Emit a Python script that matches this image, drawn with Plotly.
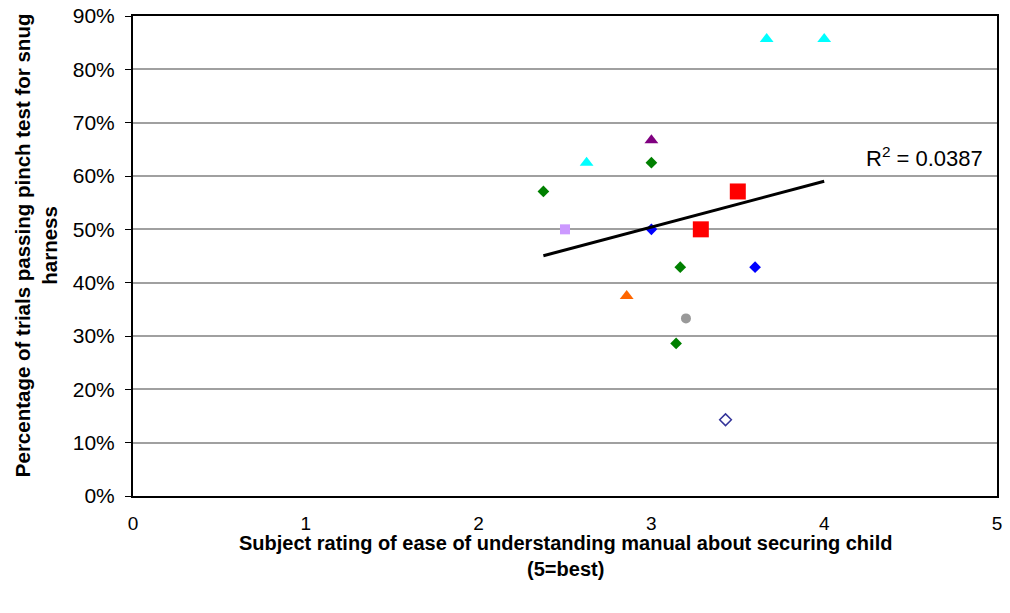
import numpy as np
import plotly.graph_objects as go

# Data: (x = rating, y = percentage passing)
series = [
    # name, x list, y list, symbol, color, size
    ("A", [3.667, 4.0, 2.625], [85.7, 85.7, 62.5], "triangle-up", "#00FFFF", 12),
    ("B", [3.0], [66.7], "triangle-up", "#800080", 12),
    ("C", [3.0, 2.375, 3.167, 3.143], [62.5, 57.1, 42.9, 28.6], "diamond", "#008000", 9),
    ("D", [2.5], [50.0], "square", "#CC99FF", 10),
    ("E", [3.0, 3.6], [50.0, 42.9], "diamond", "#0000FF", 9),
    ("F", [3.286, 3.5], [50.0, 57.1], "square", "#FF0000", 16),
    ("G", [2.857], [37.5], "triangle-up", "#FF6600", 12),
    ("H", [3.2], [33.3], "circle", "#999999", 10),
    ("I", [3.429], [14.3], "diamond-open", "#333399", 9),
]

x_ticks = [0, 1, 2, 3, 4, 5]
y_ticks = [0, 10, 20, 30, 40, 50, 60, 70, 80, 90]
y_tick_labels = [f"{v}%" for v in y_ticks]
r2_label = "R<sup>2</sup> = 0.0387"
x_title = "<b>Subject rating of ease of understanding manual about securing child<br>(5=best)</b>"
y_title = "<b>Percentage of trials passing pinch test for snug<br>harness</b>"

font_family = "Liberation Sans, Arial, sans-serif"

fig = go.Figure()
all_x, all_y = [], []
for name, xs, ys, sym, col, size in series:
    all_x += xs
    all_y += ys
    fig.add_trace(go.Scatter(
        x=xs, y=ys, mode="markers", name=name,
        marker=dict(symbol=sym, color=col, size=size,
                    line=dict(color=col, width=1.5 if "open" in sym else 0)),
        showlegend=False,
    ))

# Linear trendline (least squares over all points)
ax = np.array(all_x)
ay = np.array(all_y)
slope, intercept = np.polyfit(ax, ay, 1)
tx = np.array([ax.min(), ax.max()])
fig.add_trace(go.Scatter(x=tx, y=slope * tx + intercept, mode="lines",
                         line=dict(color="black", width=3), showlegend=False))

fig.add_annotation(x=4.93, y=63.5, xref="x", yref="y", text=r2_label,
                   showarrow=False, xanchor="right", yanchor="middle",
                   font=dict(family=font_family, size=22, color="black"))

# Axis titles
fig.add_annotation(x=-0.112, y=0.523, xref="paper", yref="paper", text=y_title,
                   showarrow=False, textangle=-90, xanchor="center", yanchor="middle",
                   font=dict(family=font_family, size=20.5, color="black"))
fig.add_annotation(x=0.5, y=-0.124, xref="paper", yref="paper", text=x_title,
                   showarrow=False, xanchor="center", yanchor="middle",
                   font=dict(family=font_family, size=20, color="black"))

fig.update_layout(
    width=1010, height=613,
    margin=dict(l=133, r=13, t=16, b=117, autoexpand=False),
    paper_bgcolor="white", plot_bgcolor="white",
    font=dict(family=font_family, color="black"),
    xaxis=dict(range=[0, 5], tickvals=x_ticks, ticktext=[str(v) for v in x_ticks],
               showgrid=False, zeroline=False, showline=True, linecolor="black",
               linewidth=2, mirror=True, ticks="", ticklabelstandoff=9,
               automargin=False, ticklabeloverflow="allow", tickfont=dict(size=19)),
    yaxis=dict(range=[0, 90], tickvals=y_ticks, ticktext=y_tick_labels,
               showgrid=True, gridcolor="#A0A0A0", gridwidth=1.5,
               zeroline=False, showline=True, linecolor="black", linewidth=2,
               mirror=True, ticks="outside", ticklen=6, tickcolor="black",
               ticklabelstandoff=6, automargin=False, ticklabeloverflow="allow",
               tickfont=dict(size=21)),
)

# Remove the default page margin so the figure sits at the window's corner.
fig.write_html("out.html",
               config={"displayModeBar": False},
               post_script="document.body.style.margin='0';document.body.style.padding='0';")
